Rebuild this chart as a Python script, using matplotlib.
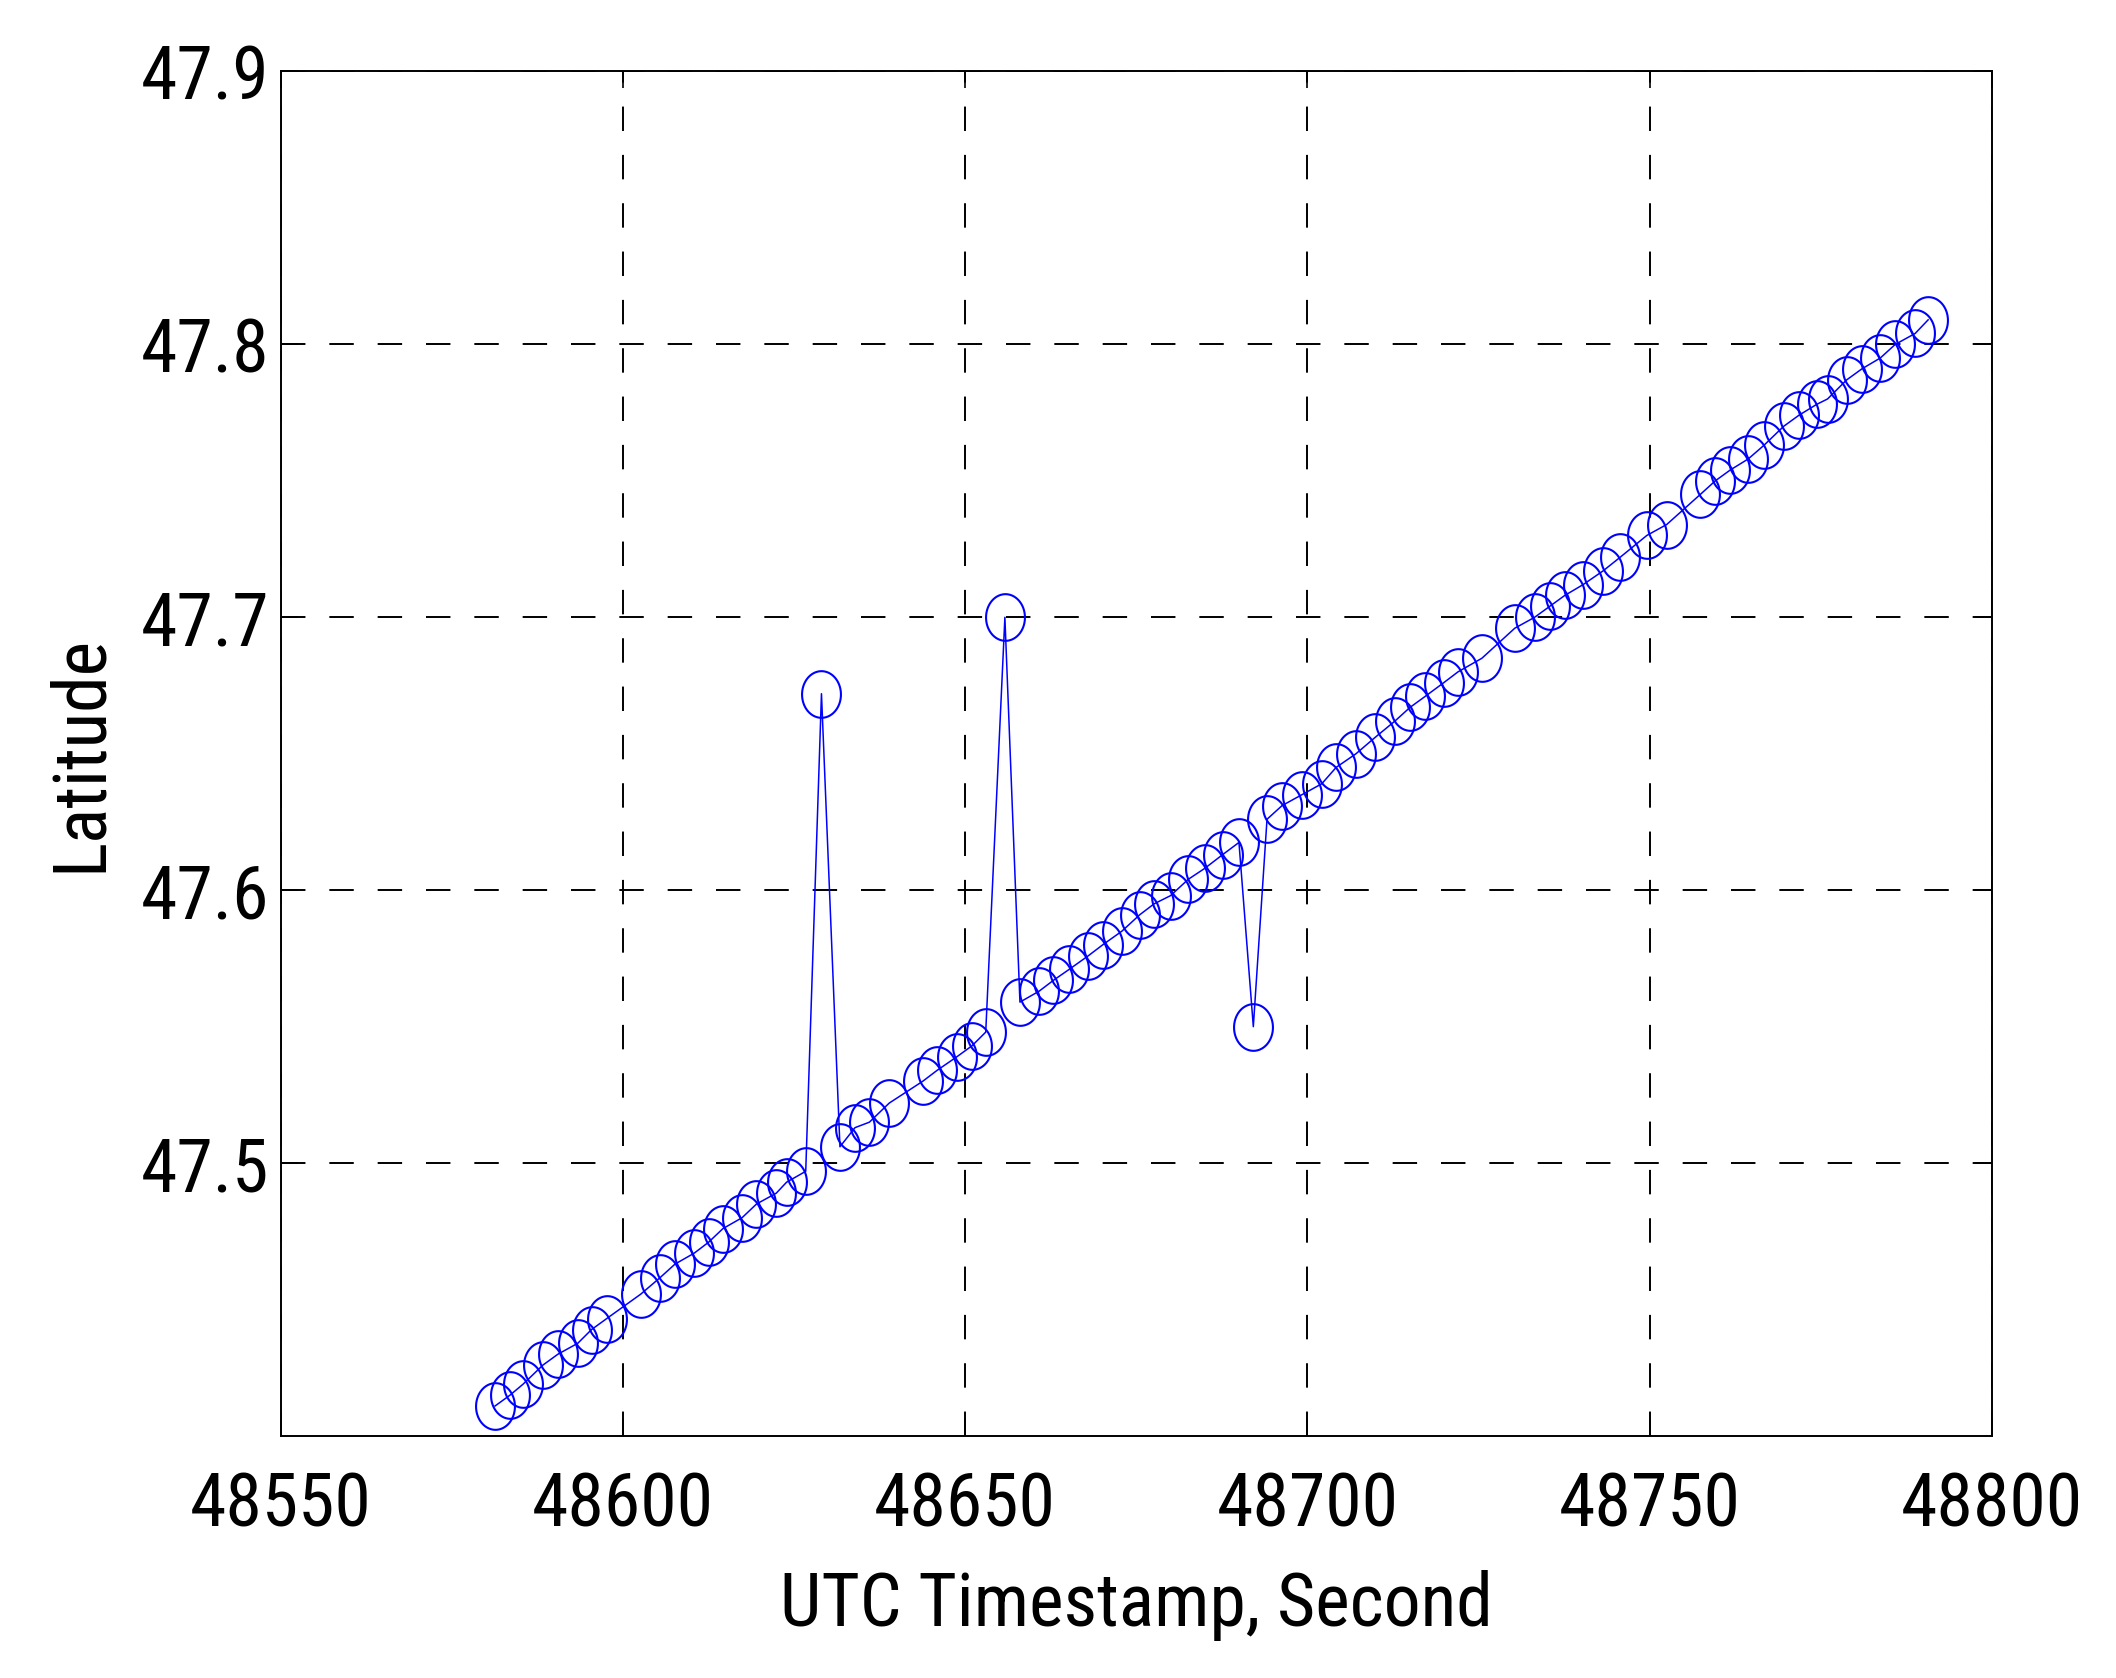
import numpy as np
import matplotlib
matplotlib.use("Agg")
import matplotlib.pyplot as plt
from matplotlib.path import Path
from matplotlib.markers import MarkerStyle
from matplotlib import font_manager

# ---- data ----
utc_seconds = [
    48581.3, 48583.5, 48585.4, 48588.3, 48590.5, 48593.4, 48595.4, 48597.6,
    48602.6, 48605.4, 48607.6, 48610.4, 48612.5, 48614.6, 48617.4, 48619.5,
    48622.4, 48623.9, 48626.7,
    48629.0,
    48631.7, 48633.9, 48636.0, 48638.9, 48643.8, 48645.9, 48648.8, 48651.0, 48653.0,
    48655.8,
    48658.0, 48660.8, 48662.9, 48665.2, 48668.0, 48670.1, 48672.9, 48675.5,
    48677.6, 48680.0, 48682.6, 48685.0, 48687.6, 48690.0,
    48692.1,
    48694.1, 48696.3, 48699.2, 48702.1, 48704.2, 48707.1, 48709.9, 48712.8,
    48715.0, 48717.2, 48719.9, 48722.0, 48725.5,
    48730.3, 48733.2, 48735.4, 48737.6, 48740.3, 48743.2, 48745.7, 48749.6, 48752.5,
    48757.4, 48759.6, 48761.8, 48764.4, 48766.7, 48769.6, 48771.8, 48774.4,
    48776.0, 48778.8, 48781.0, 48783.7, 48785.9, 48788.8, 48790.7,
]
latitude = [
    47.411, 47.415, 47.419, 47.426, 47.430, 47.434, 47.439, 47.443,
    47.452, 47.458, 47.463, 47.467, 47.471, 47.476, 47.480, 47.485,
    47.489, 47.493, 47.497,
    47.672,
    47.506, 47.513, 47.515, 47.522, 47.530, 47.534, 47.539, 47.543, 47.548,
    47.700,
    47.559, 47.563, 47.567, 47.571, 47.576, 47.580, 47.585, 47.591,
    47.595, 47.598, 47.604, 47.608, 47.613, 47.6175,
    47.550,
    47.626, 47.631, 47.635, 47.639, 47.645, 47.650, 47.656, 47.662,
    47.667, 47.671, 47.676, 47.680, 47.685,
    47.696, 47.700, 47.704, 47.708, 47.712, 47.717, 47.722, 47.730, 47.734,
    47.745, 47.750, 47.754, 47.758, 47.763, 47.770, 47.774, 47.778,
    47.780, 47.787, 47.791, 47.795, 47.800, 47.804, 47.809,
]
x_ticks = [48550, 48600, 48650, 48700, 48750, 48800]
y_ticks = [47.5, 47.6, 47.7, 47.8, 47.9]
x_label = "UTC Timestamp, Second"
y_label = "Latitude"

# ---- font: prefer a narrow Arial-like face if one is installed ----
names = {f.name for f in font_manager.fontManager.ttflist}
narrow = None
for cand in ['Liberation Sans Narrow', 'Arial Narrow', 'Nimbus Sans Narrow',
             'Roboto Condensed', 'Open Sans Condensed']:
    if cand in names:
        narrow = cand
        break
stretch = 'normal'
if narrow is None:
    for f in font_manager.fontManager.ttflist:
        if f.name in ('Liberation Sans', 'Roboto', 'Noto Sans', 'Open Sans', 'DejaVu Sans') \
                and f.stretch in ('condensed', 'semi-condensed', 'extra-condensed', 'ultra-condensed'):
            narrow = f.name
            stretch = f.stretch
            break
families = ([narrow] if narrow else []) + ['Liberation Sans', 'DejaVu Sans']
plt.rcParams['font.family'] = families
plt.rcParams['font.stretch'] = stretch
plt.rcParams['lines.scale_dashes'] = False

fsize = 26.5 if narrow else 25.5

fig = plt.figure(figsize=(2116 / 200, 1678 / 200), dpi=200)
ax = fig.add_axes([0.1327, 0.1442, 0.8086, 0.8132])

# slightly tall elliptical open marker
t = np.linspace(0, 2 * np.pi, 73)
ell = Path(np.column_stack([np.cos(t), 1.2 * np.sin(t)]), closed=True)
marker = MarkerStyle(ell)

ax.plot(utc_seconds, latitude, color=(0, 0, 1), lw=0.55,
        marker=marker, markersize=16.8, markerfacecolor='none',
        markeredgecolor=(0, 0, 1), markeredgewidth=0.75, zorder=3)

ax.set_xlim(48550, 48800)
ax.set_ylim(47.4, 47.9)
ax.set_xticks(x_ticks)
ax.set_yticks(y_ticks)
ax.set_xticklabels([str(v) for v in x_ticks])
ax.set_yticklabels([f"{v:.1f}" for v in y_ticks])

ax.grid(True, color='black', linestyle=(0, (8.8, 8.6)), linewidth=0.7)
ax.set_axisbelow(True)

for s in ax.spines.values():
    s.set_linewidth(0.7)
    s.set_color('black')

ax.tick_params(axis='both', direction='in', length=6, width=0.6,
               top=True, right=True, labelsize=fsize, colors='black')
ax.tick_params(axis='x', pad=12.5)
ax.tick_params(axis='y', pad=4)

ax.set_xlabel(x_label, fontsize=fsize, labelpad=10)
ax.set_ylabel(y_label, fontsize=fsize, labelpad=9)

fig.savefig("out.png", dpi=200, facecolor='white')
